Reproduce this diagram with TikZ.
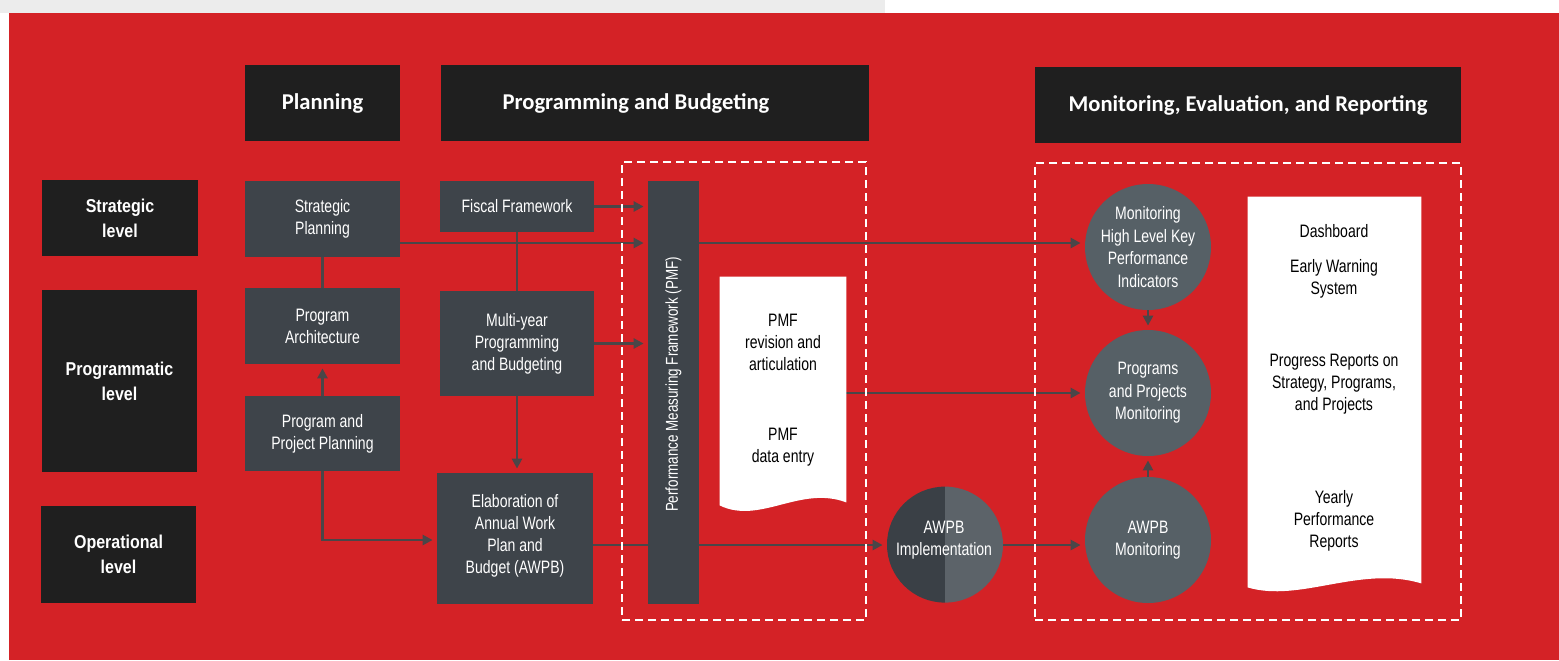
\documentclass[tikz,border=0pt]{standalone}
\usepackage{fontspec}
\setmainfont{Liberation Sans}[FakeStretch=0.78]
\newfontfamily\headfont{Carlito}
\newfontfamily\levfont{Liberation Sans}[FakeStretch=0.86]
\usetikzlibrary{arrows.meta,calc}
\definecolor{bgred}{RGB}{212,34,38}
\definecolor{topgray}{RGB}{236,236,236}
\definecolor{hdr}{RGB}{31,31,31}
\definecolor{boxgray}{RGB}{62,68,74}
\definecolor{circgray}{RGB}{86,96,102}
\definecolor{cidark}{RGB}{58,64,70}
\definecolor{cilight}{RGB}{92,99,105}
\definecolor{lnc}{RGB}{74,70,72}
\pgfdeclarelayer{bg}
\pgfsetlayers{bg,main}
\begin{document}
\begin{tikzpicture}[x=0.5pt,y=-0.5pt,
  hdrbox/.style={fill=hdr,text=white,inner sep=0pt,font=\headfont\bfseries\fontsize{11.3}{13}\selectfont},
  levbox/.style={fill=hdr,text=white,inner sep=0pt,align=center,font=\levfont\bfseries\fontsize{9.3}{12.5}\selectfont},
  gbox/.style={fill=boxgray,text=white,inner sep=0pt,align=center,font=\fontsize{9}{11}\selectfont},
  circ/.style={circle,fill=circgray,text=white,inner sep=0pt,minimum size=63pt,align=center,font=\fontsize{9}{11.2}\selectfont},
  doctext/.style={text=black,align=center,font=\fontsize{9}{11}\selectfont,inner sep=0pt},
  conn/.style={draw=lnc,line width=1.4pt},
  arr/.style={conn,-{Triangle[length=5pt,width=5pt]},shorten >=2pt},
  frame/.style={draw=white,line width=1.2pt,dash pattern=on 4pt off 2.5pt,inner sep=0pt},
]
\useasboundingbox (0,0) rectangle (1559,660);
\begin{pgfonlayer}{bg}
\fill[white] (0,0) rectangle (1559,660);
\fill[topgray] (0,0) rectangle (885,13);
\fill[bgred] (9,13) rectangle (1559,660);
\end{pgfonlayer}

% headers
\node[hdrbox,minimum width=77.5pt,minimum height=38pt] (hplan) at (322.5,103) {Planning};
\node[hdrbox,minimum width=214pt,minimum height=38pt] (hprog) at (655,103) {Programming and Budgeting\hspace*{19pt}};
\node[hdrbox,minimum width=213pt,minimum height=38pt] (hmon) at (1248,105) {Monitoring, Evaluation, and Reporting};

% levels
\node[levbox,minimum width=78pt,minimum height=38pt] (lstr) at (120,218) {Strategic\\level};
\node[levbox,minimum width=77.5pt,minimum height=91pt] (lprog) at (119.5,381) {Programmatic\\level};
\node[levbox,minimum width=77.5pt,minimum height=48.5pt] (lop) at (118.5,554.5) {Operational\\level};

% planning column
\node[gbox,minimum width=77.5pt,minimum height=38pt] (sp) at (322.5,219) {Strategic\\Planning};
\node[gbox,minimum width=77.5pt,minimum height=38pt] (pa) at (322.5,326) {Program\\Architecture};
\node[gbox,minimum width=77.5pt,minimum height=37.5pt] (ppp) at (322.5,433.5) {Program and\\Project Planning};

% programming column
\node[gbox,minimum width=77pt,minimum height=25.5pt] (ff) at (517,206.5) {Fiscal Framework};
\node[gbox,minimum width=77pt,minimum height=52.5pt] (my) at (517,343.5) {Multi-year\\Programming\\and Budgeting};
\node[gbox,minimum width=78pt,minimum height=65.5pt] (el) at (515,538.5) {Elaboration of\\Annual Work\\Plan and\\Budget (AWPB)\\[-6pt]};

% PMF bar
\node[fill=boxgray,inner sep=0pt,minimum width=25.5pt,minimum height=211.5pt] (pmf) at (673.5,392.5) {};
\node[rotate=90,text=white,inner sep=0pt,font=\fontsize{8.6}{11}\selectfont] (pmflab) at ($(pmf.center)+(0,-8)$) {Performance Measuring Framework (PMF)};

% PMF document
\node[inner sep=0pt,minimum width=63pt,minimum height=114pt] (pmfdoc) at (783,391) {};
\fill[white] (pmfdoc.north west) -- (pmfdoc.north east) -- ($(pmfdoc.south east)+(0,-3)$)
  .. controls (800,485) and (760,525) .. (pmfdoc.south west) -- cycle;
\node[doctext] (pmfrev) at (783,342) {PMF\\revision and\\articulation};
\node[doctext] (pmfdat) at (783,447) {PMF\\data entry};

% AWPB implementation circle
\node[circle,inner sep=0pt,minimum size=58pt] (ci) at (945,545) {};
\fill[cidark] (ci.north) arc[start angle=90,end angle=270,radius=29pt] -- cycle;
\fill[cilight] (ci.north) arc[start angle=90,end angle=-90,radius=29pt] -- cycle;
\node[text=white,align=center,inner sep=0pt,font=\fontsize{9}{11}\selectfont] (cilab) at (944,540) {AWPB\\Implementation};

% monitoring circles
\node[circ] (c1) at (1148,247) {Monitoring\\High Level Key\\Performance\\Indicators};
\node[circ] (c2) at (1148,393) {Programs\\and Projects\\Monitoring};
\node[circ] (c3) at (1148,540) {AWPB\\Monitoring};

% report document
\node[inner sep=0pt,minimum width=86.5pt,minimum height=195pt] (rep) at (1334.5,392) {};
\fill[white] (rep.north west) -- (rep.north east) -- ($(rep.south east)+(0,-4)$)
  .. controls (1360,565) and (1300,603) .. (rep.south west) -- cycle;
\node[doctext] (rdash) at (1334,231) {Dashboard};
\node[doctext] (rews) at (1334,279) {Early Warning\\System};
\node[doctext] (rprog) at (1334,384) {Progress Reports on\\Strategy, Programs,\\and Projects};
\node[doctext] (ryear) at (1334,521) {Yearly\\Performance\\Reports};

% dashed frames
\node[frame,minimum width=122pt,minimum height=229pt] (fr1) at (744,391) {};
\node[frame,minimum width=213pt,minimum height=228.5pt] (fr2) at (1248,391.5) {};

% connectors
\coordinate (ya) at (0,243);
\coordinate (yb) at (0,540);
\begin{pgfonlayer}{bg}
\draw[conn] (sp.south) -- (pa.north);
\draw[arr] (ppp.north) -- (pa.south);
\draw[arr] (ppp.south) |- (el.west |- yb);
\draw[arr] (sp.east |- ya) -- (pmf.west |- ya);
\draw[arr] (pmf.east |- ya) -- (c1.west |- ya);
\draw[arr] (ff.east) -- (ff.east -| pmf.west);
\draw[conn] (ff.south) -- (my.north);
\draw[arr] (my.south) -- (my.south |- el.north);
\draw[arr] (my.east) -- (my.east -| pmf.west);
\draw[arr] (el.east |- ci) -- (ci.west);
\draw[arr] (pmfdoc.east |- c2) -- (c2.west);
\draw[arr] (ci.east) -- (ci.east -| c3.west);
\draw[arr] (c1.south) -- (c2.north);
\draw[arr] (c3.north) -- (c2.south);
\end{pgfonlayer}
\end{tikzpicture}
\end{document}
